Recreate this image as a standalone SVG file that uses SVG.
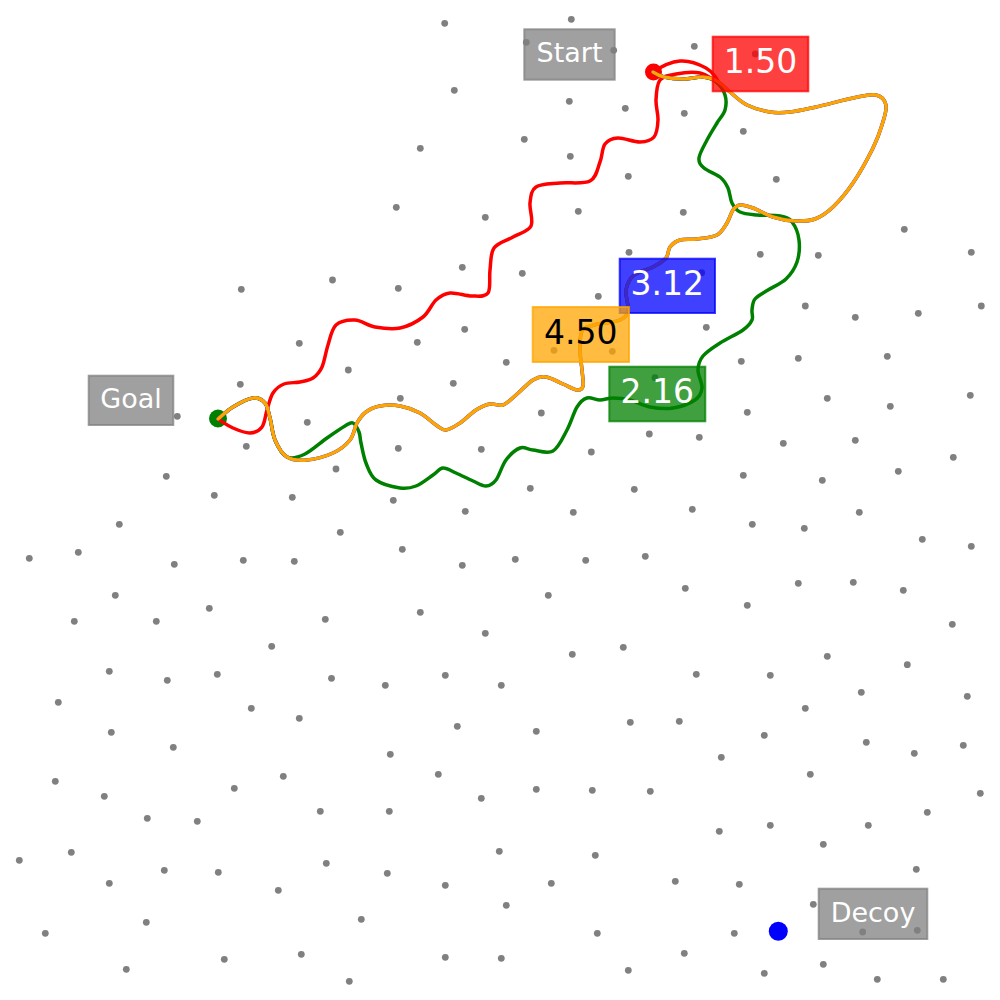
<svg xmlns="http://www.w3.org/2000/svg" xmlns:xlink="http://www.w3.org/1999/xlink" width="1000" height="1000" viewBox="0 0 1000 1000">
<defs>
<circle id="dot" r="3.4" fill="#808080"/>
<style>
.path{fill:none;stroke-width:3.5;stroke-linecap:round;stroke-linejoin:round}
.lbl{stroke-width:2;fill-opacity:0.75;stroke-opacity:0.75}
.gray{fill:#808080;stroke:#808080}
.t{font-family:"DejaVu Sans","Liberation Sans",sans-serif;text-anchor:middle}
.tg{font-size:27px;fill:#ffffff}
.tn{font-size:33px}
</style>
</defs>
<rect width="1000" height="1000" fill="#ffffff"/>
<g id="dots">
<use href="#dot" x="241.3" y="289.3"/><use href="#dot" x="332.5" y="280"/>
<use href="#dot" x="444.7" y="23.3"/><use href="#dot" x="571.3" y="19.3"/><use href="#dot" x="526.3" y="42.3"/><use href="#dot" x="613.7" y="50.3"/><use href="#dot" x="454.3" y="90.3"/><use href="#dot" x="569.3" y="101.3"/><use href="#dot" x="625.3" y="108.3"/><use href="#dot" x="420.3" y="148.3"/><use href="#dot" x="524.3" y="139.3"/><use href="#dot" x="570.3" y="156.3"/><use href="#dot" x="628.3" y="176.3"/><use href="#dot" x="396.3" y="207.3"/><use href="#dot" x="485.3" y="217.3"/><use href="#dot" x="578.3" y="211.3"/><use href="#dot" x="629" y="252.3"/><use href="#dot" x="462.3" y="267.3"/><use href="#dot" x="522.3" y="273.3"/><use href="#dot" x="398.3" y="288.3"/><use href="#dot" x="598.3" y="296.3"/><use href="#dot" x="464.7" y="329.3"/>
<use href="#dot" x="694.3" y="46.3"/><use href="#dot" x="755.3" y="54"/><use href="#dot" x="684.3" y="113.3"/><use href="#dot" x="743.3" y="131.3"/><use href="#dot" x="776.3" y="179.3"/><use href="#dot" x="683.3" y="212.3"/><use href="#dot" x="904.3" y="229.3"/><use href="#dot" x="760.3" y="254.3"/><use href="#dot" x="818.3" y="255.3"/><use href="#dot" x="971.3" y="252.3"/><use href="#dot" x="701.7" y="272.7"/><use href="#dot" x="805.3" y="306"/><use href="#dot" x="855.3" y="317.3"/><use href="#dot" x="918.3" y="313.3"/><use href="#dot" x="981.3" y="306"/><use href="#dot" x="706.3" y="327.3"/>
<use href="#dot" x="299.3" y="343.3"/><use href="#dot" x="240.3" y="384.3"/><use href="#dot" x="177.3" y="416.3"/><use href="#dot" x="307.3" y="422.3"/><use href="#dot" x="246.3" y="446.3"/><use href="#dot" x="336" y="469"/><use href="#dot" x="166.3" y="476.3"/><use href="#dot" x="214.3" y="495.3"/><use href="#dot" x="292.3" y="497.3"/><use href="#dot" x="119.3" y="524.3"/><use href="#dot" x="29.3" y="558.3"/><use href="#dot" x="78.3" y="552.3"/><use href="#dot" x="174.3" y="564.3"/><use href="#dot" x="243.3" y="560.3"/><use href="#dot" x="294.3" y="561.3"/><use href="#dot" x="115.3" y="595.3"/><use href="#dot" x="74.3" y="621.3"/><use href="#dot" x="156.3" y="621.3"/><use href="#dot" x="209.3" y="608.3"/><use href="#dot" x="325.3" y="619.3"/><use href="#dot" x="271.7" y="646.3"/>
<use href="#dot" x="417.3" y="342.3"/><use href="#dot" x="348.3" y="370"/><use href="#dot" x="506.3" y="362.3"/><use href="#dot" x="453.3" y="383.3"/><use href="#dot" x="554" y="350.3"/><use href="#dot" x="612.3" y="351.3"/><use href="#dot" x="655" y="377.7"/><use href="#dot" x="400.3" y="398.3"/><use href="#dot" x="541.3" y="413"/><use href="#dot" x="649.3" y="434"/><use href="#dot" x="398.3" y="448.3"/><use href="#dot" x="481.3" y="449.3"/><use href="#dot" x="591.3" y="452"/><use href="#dot" x="530.3" y="488.3"/><use href="#dot" x="634.3" y="489.3"/><use href="#dot" x="393.3" y="500.3"/><use href="#dot" x="465.3" y="511.3"/><use href="#dot" x="573.3" y="512.3"/><use href="#dot" x="340.3" y="532.3"/><use href="#dot" x="402.3" y="549.3"/><use href="#dot" x="462.3" y="565.3"/><use href="#dot" x="515.3" y="559.3"/><use href="#dot" x="585.7" y="560.3"/><use href="#dot" x="645.3" y="556.3"/><use href="#dot" x="548.3" y="595.3"/><use href="#dot" x="420.3" y="612.3"/><use href="#dot" x="485.3" y="633.3"/><use href="#dot" x="572.3" y="654.3"/><use href="#dot" x="623.3" y="647.3"/>
<use href="#dot" x="741.3" y="361.3"/><use href="#dot" x="798.3" y="358.3"/><use href="#dot" x="887.3" y="356.3"/><use href="#dot" x="827.3" y="398.3"/><use href="#dot" x="890.3" y="406.3"/><use href="#dot" x="970.3" y="395.3"/><use href="#dot" x="747.3" y="412.3"/><use href="#dot" x="699.3" y="437.3"/><use href="#dot" x="783.3" y="443.3"/><use href="#dot" x="855.3" y="440.3"/><use href="#dot" x="953.3" y="457.3"/><use href="#dot" x="743.3" y="475.3"/><use href="#dot" x="822.3" y="480.3"/><use href="#dot" x="898.3" y="471.3"/><use href="#dot" x="692.3" y="509.3"/><use href="#dot" x="752.3" y="524.3"/><use href="#dot" x="804.3" y="528.3"/><use href="#dot" x="859.3" y="512.3"/><use href="#dot" x="922.3" y="539.3"/><use href="#dot" x="971.3" y="546.3"/><use href="#dot" x="685.3" y="588.3"/><use href="#dot" x="747.3" y="605.3"/><use href="#dot" x="798.3" y="583.3"/><use href="#dot" x="853.3" y="582.3"/><use href="#dot" x="903.3" y="590.3"/><use href="#dot" x="952.3" y="624.3"/><use href="#dot" x="827.3" y="656.3"/><use href="#dot" x="907.3" y="664.7"/>
<use href="#dot" x="109.3" y="671.3"/><use href="#dot" x="167.3" y="680.3"/><use href="#dot" x="217.3" y="674.3"/><use href="#dot" x="331.5" y="678.3"/><use href="#dot" x="58.3" y="702.3"/><use href="#dot" x="251.3" y="708.3"/><use href="#dot" x="299.3" y="718.3"/><use href="#dot" x="111.3" y="732.3"/><use href="#dot" x="173.3" y="747.3"/><use href="#dot" x="55.3" y="781.3"/><use href="#dot" x="104.3" y="796.3"/><use href="#dot" x="283.3" y="776.3"/><use href="#dot" x="234.3" y="788.3"/><use href="#dot" x="147.3" y="818.3"/><use href="#dot" x="197.3" y="821.3"/><use href="#dot" x="320.3" y="811.3"/><use href="#dot" x="19.3" y="860.3"/><use href="#dot" x="71.3" y="852.3"/><use href="#dot" x="164.3" y="870.3"/><use href="#dot" x="218.3" y="872.3"/><use href="#dot" x="109.3" y="883.3"/><use href="#dot" x="326.3" y="863.3"/><use href="#dot" x="278.3" y="890.3"/><use href="#dot" x="146.3" y="922.3"/><use href="#dot" x="45.3" y="933.3"/><use href="#dot" x="224.3" y="959.3"/><use href="#dot" x="301.3" y="954.3"/><use href="#dot" x="126.3" y="969.3"/>
<use href="#dot" x="385.3" y="685.3"/><use href="#dot" x="445.3" y="675.3"/><use href="#dot" x="501.3" y="685.3"/><use href="#dot" x="457.3" y="726.3"/><use href="#dot" x="536.3" y="731.3"/><use href="#dot" x="630.3" y="722.3"/><use href="#dot" x="390.3" y="754.3"/><use href="#dot" x="438.3" y="774.3"/><use href="#dot" x="536.3" y="789.3"/><use href="#dot" x="592.3" y="790.3"/><use href="#dot" x="650.3" y="791.3"/><use href="#dot" x="481.3" y="798.3"/><use href="#dot" x="389.3" y="811.3"/><use href="#dot" x="499.3" y="851.3"/><use href="#dot" x="595.3" y="855.3"/><use href="#dot" x="387.3" y="873.3"/><use href="#dot" x="445.3" y="885.3"/><use href="#dot" x="551.3" y="883.3"/><use href="#dot" x="506.3" y="905.3"/><use href="#dot" x="361.3" y="919.3"/><use href="#dot" x="597.3" y="933.3"/><use href="#dot" x="445.3" y="957.3"/><use href="#dot" x="501.3" y="958.3"/><use href="#dot" x="628.3" y="970.3"/><use href="#dot" x="349.3" y="981.3"/>
<use href="#dot" x="696.3" y="674.3"/><use href="#dot" x="770.3" y="675.3"/><use href="#dot" x="861.3" y="692.3"/><use href="#dot" x="967.3" y="696.3"/><use href="#dot" x="805.3" y="708.3"/><use href="#dot" x="679.3" y="721.3"/><use href="#dot" x="764.3" y="735.3"/><use href="#dot" x="866.3" y="742.3"/><use href="#dot" x="914.3" y="753.3"/><use href="#dot" x="963.3" y="745.3"/><use href="#dot" x="721.3" y="757.3"/><use href="#dot" x="810.3" y="774.3"/><use href="#dot" x="980.3" y="793.3"/><use href="#dot" x="927.3" y="812.3"/><use href="#dot" x="719.3" y="831.3"/><use href="#dot" x="770.3" y="825.3"/><use href="#dot" x="868.3" y="825.3"/><use href="#dot" x="823.3" y="844.3"/><use href="#dot" x="916.3" y="869.3"/><use href="#dot" x="675.3" y="881.3"/><use href="#dot" x="739.3" y="884.3"/><use href="#dot" x="813.3" y="904.3"/><use href="#dot" x="734.3" y="933.3"/><use href="#dot" x="862.7" y="932"/><use href="#dot" x="917.3" y="930.3"/><use href="#dot" x="684.3" y="953.3"/><use href="#dot" x="764.3" y="973.3"/><use href="#dot" x="823.3" y="964.3"/><use href="#dot" x="877.3" y="979.3"/><use href="#dot" x="943.3" y="979.3"/>
</g>
<g id="markers">
<circle id="start-point" cx="653.5" cy="72" r="8.5" fill="#ff0000"/>
<circle id="goal-point" cx="218" cy="418.5" r="9" fill="#008000"/>
<circle id="decoy-point" cx="778.3" cy="931.3" r="9.5" fill="#0000ff"/>
</g>
<g id="connectors">
<path id="path-green" class="path" stroke="#008000" d="M653,72 C656,74 659,75.8 664,77 S676.5,79 683,79 S697.5,76.5 703,77 S712.3,79 716,82 S723.5,90.3 725,95 S726.3,105.3 725,110 S720,118 717,123 S710,134.2 707,140 S699.5,153.3 699,158 S700.5,164.8 704,168 S716,173.7 720,177 S726,183.7 728,188 S730,199 732,203 S735.8,210 740,212 S750.3,214.3 757,215 S774.2,214.8 780,216 S788.8,218 792,222 S798.2,233.3 799,240 S799.2,255.5 797,262 S790.8,274.3 786,279 S773.2,286.7 768,290 S757.7,295.7 755,299 S752.5,306.5 752,310 S753.5,316.7 752,320 S748.3,326.2 743,330 S726.7,338.7 720,343 S706.7,351.5 703,356 S698.2,364.7 698,370 S702.5,383 702,388 S699.8,396.7 695,400 S680.5,406.8 673,408 S657.2,408.3 650,407 S636.2,401.5 630,400 S618,398 613,398 S604.3,400 600,400 S590.8,396.8 587,398 S580.3,401.7 577,407 S571,422.7 567,430 S558.7,447.7 553,451 S538.5,450.5 533,450 S524.5,446.3 520,448 S510,454.7 506,460 S499.3,475.7 496,480 S489.8,485.8 486,486 S478,483.2 473,481 S461,475.2 456,473 S446.8,467.7 443,468 S437.5,472 433,475 S421.5,483.8 416,486 S406.7,489 400,488 S381.7,484.2 376,480 S368.5,469.2 366,463 S362.2,448.2 361,443 S360.3,435.3 359,432 S355.3,424 353,423 S349.3,423.5 345,426 S333.7,433.3 327,438 S311.7,450.8 305,454 S292,459.3 287,457 S277.8,446.5 275,440 S271.7,424.2 270,418 S267.8,406.3 265,403 S258.3,397.3 253,398 S238.8,403.5 233,407 S224,414 218,419"/>
<path id="path-red" class="path" stroke="#ff0000" d="M653,72 C662,66 671.2,61.7 680,61 S699.7,64.5 706,68 S719,81.2 718,82 S707,74.3 700,73 S682.7,72.8 676,74 S663.3,75.7 660,80 S656.3,93.3 656,100 S658.3,113.8 658,120 S657,133.3 654,137 S646,141.8 640,142 S623.8,137.7 618,138 S608,140 605,144 S602.5,155.8 600,162 S596.7,177.5 590,181 S569,182 560,183 S541,183.7 536,187 S530.8,196.5 530,203 S533.8,220.3 531,226 S519.2,233.3 513,237 S497.8,242.5 494,248 S491,262.5 490,270 S491,288.7 488,293 S478.3,296 472,296 S456,292.3 450,293 S440.5,296 436,300 S429,312.3 423,317 S408,326.3 400,328 S382.5,328.3 375,327 S361.5,320.3 355,320 S340.5,320.8 336,325 S330.3,338 328,345 S324.5,361.5 322,367 S316.7,375.5 313,378 S304.8,381 300,382 S288.5,382.2 284,384 S275.8,388.7 273,393 S268.8,404.3 267,410 S264.8,423.2 262,427 S254.8,432.8 250,433 S238.3,430.3 233,428 S224,423 218,419"/>
<path id="path-blue" class="path" stroke="#0000ff" d="M653,72 C656,74 659,75.8 664,77 S676.5,79 683,79 S697.3,76.7 703,77 S712.5,78.5 717,81 S725,88 730,92 S740.3,101.7 747,105 S762.8,110.8 770,112 S782.3,112.8 790,112 S805.5,109.3 816,107 S843,100 853,98 S870.5,93.8 876,95 S885,100 886,105 S884.2,117.8 882,125 S877.8,138.3 873,148 S859.7,173.2 853,183 S839.3,201 833,207 S821.3,216.7 815,219 S802,221.3 795,221 S780,219.2 773,217 S758.5,210 753,208 S743.3,204.7 740,205 S735.2,207 733,210 S729.7,218.8 727,223 S722,232.3 717,235 S703.2,238.2 697,239 S684.5,238.7 680,240 S672.3,244 670,247 S668.8,254.7 666,258 S658.3,264.2 653,267 S638.5,271.2 634,275 S627,284.2 626,290 S629,305 628,310 S625.7,317.5 620,320 S600.3,323.2 594,325 S584.3,326.8 582,331 S580,343.5 580,350 S581.5,364 582,370 S583.8,382.7 583,386 S580.3,390.3 577,390 S568.2,386.2 563,384 S551,377.7 546,377 S538,377 533,380 S521,390.8 516,395 S507.3,403.5 503,405 S494.5,403.2 490,404 S481,406.8 476,410 S465,419.7 460,423 S450,429.7 446,430 S440.3,427.8 436,425 S426,416.2 420,413 S406.7,407.2 400,406 S385.7,405 380,406 S369.8,409.2 366,412 S359.7,418.3 357,423 S354,435 350,440 S340.2,449.7 333,453 S314.7,459.3 307,460 S292.3,460.3 287,457 S277.8,446.5 275,440 S271.7,424.2 270,418 S267.8,406.3 265,403 S258.3,397.3 253,398 S238.8,403.5 233,407 S224,414 218,419"/>
<path id="path-orange" class="path" stroke="#ffa500" d="M653,72 C656,74 659,75.8 664,77 S676.5,79 683,79 S697.3,76.7 703,77 S712.5,78.5 717,81 S725,88 730,92 S740.3,101.7 747,105 S762.8,110.8 770,112 S782.3,112.8 790,112 S805.5,109.3 816,107 S843,100 853,98 S870.5,93.8 876,95 S885,100 886,105 S884.2,117.8 882,125 S877.8,138.3 873,148 S859.7,173.2 853,183 S839.3,201 833,207 S821.3,216.7 815,219 S802,221.3 795,221 S780,219.2 773,217 S758.5,210 753,208 S743.3,204.7 740,205 S735.2,207 733,210 S729.7,218.8 727,223 S722,232.3 717,235 S703.2,238.2 697,239 S684.5,238.7 680,240 S672.3,244 670,247 S668.8,254.7 666,258 S658.3,264.2 653,267 S638.5,271.2 634,275 S627,284.2 626,290 S629,305 628,310 S625.7,317.5 620,320 S600.3,323.2 594,325 S584.3,326.8 582,331 S580,343.5 580,350 S581.5,364 582,370 S583.8,382.7 583,386 S580.3,390.3 577,390 S568.2,386.2 563,384 S551,377.7 546,377 S538,377 533,380 S521,390.8 516,395 S507.3,403.5 503,405 S494.5,403.2 490,404 S481,406.8 476,410 S465,419.7 460,423 S450,429.7 446,430 S440.3,427.8 436,425 S426,416.2 420,413 S406.7,407.2 400,406 S385.7,405 380,406 S369.8,409.2 366,412 S359.7,418.3 357,423 S354,435 350,440 S340.2,449.7 333,453 S314.7,459.3 307,460 S292.3,460.3 287,457 S277.8,446.5 275,440 S271.7,424.2 270,418 S267.8,406.3 265,403 S258.3,397.3 253,398 S238.8,403.5 233,407 S224,414 218,419"/>
</g>
<g id="label-start"><rect class="lbl gray" x="524.3" y="29.3" width="90.4" height="50.4"/><text class="t tg" x="569.5" y="61.7">Start</text></g>
<g id="label-goal"><rect class="lbl gray" x="88.7" y="375.7" width="84.6" height="49.3"/><text class="t tg" x="131" y="408">Goal</text></g>
<g id="label-decoy"><rect class="lbl gray" x="818.7" y="888.7" width="108.6" height="50.3"/><text class="t tg" x="873" y="922">Decoy</text></g>
<g id="label-red"><rect class="lbl" fill="#ff0000" stroke="#ff0000" x="712.7" y="36.7" width="95.6" height="54.6"/><text class="t tn" fill="#ffffff" x="760.5" y="72.7">1.50</text></g>
<g id="label-blue"><rect class="lbl" fill="#0000ff" stroke="#0000ff" x="619.7" y="258.7" width="95.3" height="54.3"/><text class="t tn" fill="#ffffff" x="667.3" y="294.8">3.12</text></g>
<g id="label-orange"><rect class="lbl" fill="#ffa500" stroke="#ffa500" x="532.7" y="307" width="96.3" height="55"/><text class="t tn" fill="#000000" x="580.8" y="343.8">4.50</text></g>
<g id="label-green"><rect class="lbl" fill="#008000" stroke="#008000" x="609.3" y="366.7" width="96" height="54.6"/><text class="t tn" fill="#ffffff" x="657.3" y="403.2">2.16</text></g>
</svg>
